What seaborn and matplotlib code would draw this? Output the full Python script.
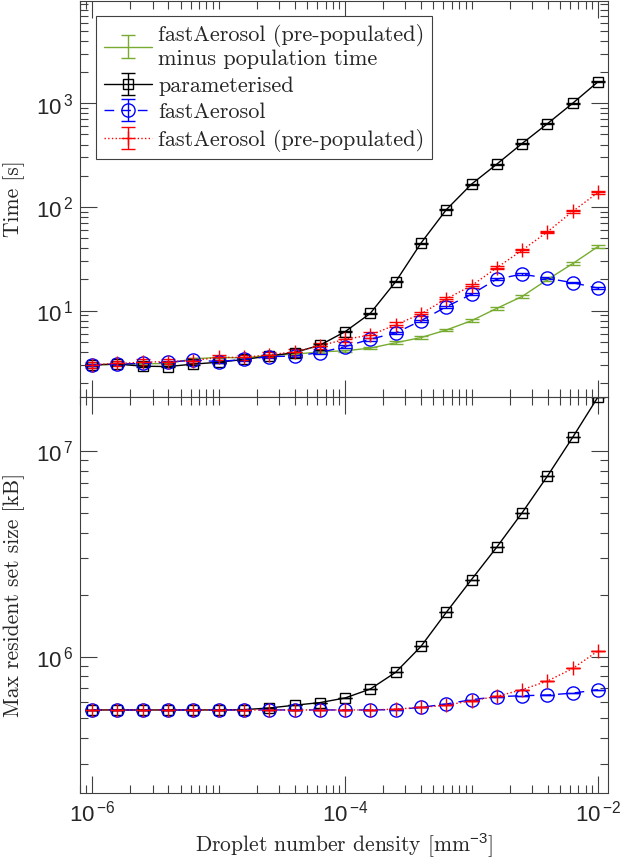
import numpy as np
import matplotlib.pyplot as plt
import seaborn as sns
from matplotlib.ticker import FixedLocator, LogLocator, FuncFormatter, NullFormatter

# droplet number density [mm^-3]
density = [1.00e-6, 1.58e-6, 2.51e-6, 3.98e-6, 6.31e-6,
           1.00e-5, 1.58e-5, 2.51e-5, 3.98e-5, 6.31e-5,
           1.00e-4, 1.58e-4, 2.51e-4, 3.98e-4, 6.31e-4,
           1.00e-3, 1.58e-3, 2.51e-3, 3.98e-3, 6.31e-3,
           1.00e-2]

# run time [s]
time_minus_pop = [3.0, 3.03, 3.06, 3.1, 3.43, 3.54, 3.5, 3.7, 3.8, 4.0, 4.1,
                  4.35, 4.9, 5.5, 6.5, 8.0, 10.5, 13.7, 19.9, 28.4, 41.5]
time_param = [3.0, 3.05, 2.91, 2.89, 3.05, 3.18, 3.38, 3.65, 3.94, 4.64, 6.27,
              9.4, 19.0, 44.8, 94, 166, 258, 409, 635, 1000, 1610]
time_fast = [3.0, 3.05, 3.1, 3.18, 3.33, 3.23, 3.38, 3.6, 3.65, 3.94, 4.5,
             5.3, 6.1, 8.0, 10.9, 14.4, 20.1, 22.5, 20.5, 18.6, 16.5]
time_prepop = [3.0, 3.1, 3.18, 3.23, 3.3, 3.54, 3.54, 3.76, 4.0, 4.57, 5.3,
               5.8, 7.3, 9.3, 13.0, 17.4, 25.9, 38.2, 57.5, 90.6, 138]

time_minus_pop_err = [0.05, 0.05, 0.05, 0.05, 0.06, 0.06, 0.06, 0.07, 0.08, 0.1, 0.1,
                      0.12, 0.15, 0.18, 0.2, 0.25, 0.35, 0.5, 0.7, 1.0, 1.4]
time_param_err = [0.05, 0.05, 0.05, 0.05, 0.05, 0.05, 0.06, 0.06, 0.07, 0.08, 0.1,
                  0.15, 0.3, 0.6, 1.0, 2.0, 3.0, 4.0, 6.0, 8.0, 12.0]
time_fast_err = [0.08, 0.08, 0.08, 0.08, 0.08, 0.08, 0.08, 0.1, 0.1, 0.1, 0.12,
                 0.15, 0.15, 0.2, 0.25, 0.3, 0.4, 0.4, 0.4, 0.3, 0.3]
time_prepop_err = [0.2, 0.2, 0.2, 0.2, 0.2, 0.2, 0.2, 0.2, 0.25, 0.3, 0.3,
                   0.4, 0.4, 0.5, 0.6, 0.7, 0.9, 1.2, 1.6, 2.5, 3.5]

# max resident set size [kB]
mem_param = [5.50e5, 5.50e5, 5.50e5, 5.50e5, 5.50e5, 5.50e5, 5.52e5, 5.62e5,
             5.80e5, 5.97e5, 6.29e5, 6.95e5, 8.38e5, 1.12e6, 1.64e6, 2.37e6,
             3.40e6, 5.00e6, 7.54e6, 1.165e7, 1.83e7]
mem_fast = [5.50e5, 5.50e5, 5.50e5, 5.50e5, 5.50e5, 5.50e5, 5.50e5, 5.50e5,
            5.50e5, 5.50e5, 5.50e5, 5.50e5, 5.52e5, 5.66e5, 5.88e5, 6.17e5,
            6.38e5, 6.45e5, 6.50e5, 6.64e5, 6.90e5]
mem_prepop = [5.50e5, 5.50e5, 5.50e5, 5.50e5, 5.50e5, 5.50e5, 5.50e5, 5.50e5,
              5.50e5, 5.50e5, 5.50e5, 5.50e5, 5.55e5, 5.66e5, 5.80e5, 6.10e5,
              6.40e5, 6.90e5, 7.60e5, 8.75e5, 1.065e6]
mem_err = [0, 0, 0, 0, 0, 0, 0, 0, 0, 0, 0, 0, 0, 0, 0, 0, 0, 0, 0, 0, 0]

sns.set_theme(style='ticks')
plt.rcParams['mathtext.fontset'] = 'custom'
plt.rcParams['mathtext.rm'] = 'Liberation Sans'
plt.rcParams['mathtext.it'] = 'Liberation Sans:italic'
plt.rcParams['mathtext.sf'] = 'Liberation Sans'
plt.rcParams['axes.unicode_minus'] = False

label_font = {'family': 'cmr10', 'size': 15.5}
legend_font = {'family': 'cmr10', 'size': 16}

fig = plt.figure(figsize=(6.23, 8.6), dpi=100)
ax1 = fig.add_axes([0.1284, 0.5384, 0.8475, 0.4605])
ax2 = fig.add_axes([0.1284, 0.0779, 0.8475, 0.4605])

green = '#77AC30'
blue = '#0000FF'
red = '#FF0000'
black = '#000000'
dash = (0, (7, 5))


def draw(ax, y, err, color, ls, marker, ms, label):
    ax.errorbar(density, y, yerr=err, color=color, ls=ls, marker=marker,
                mfc='none', ms=ms, mew=1.0, lw=1.0, elinewidth=1.0,
                capsize=5, capthick=1.0, label=label)


draw(ax1, time_minus_pop, time_minus_pop_err, green, '-', '', 0,
     'fastAerosol (pre-populated)\nminus population time')
draw(ax1, time_param, time_param_err, black, '-', 's', 7, 'parameterised')
draw(ax1, time_fast, time_fast_err, blue, dash, 'o', 9.5, 'fastAerosol')
draw(ax1, time_prepop, time_prepop_err, red, ':', '+', 10, 'fastAerosol (pre-populated)')

draw(ax2, mem_param, mem_err, black, '-', 's', 7, 'parameterised')
draw(ax2, mem_fast, mem_err, blue, dash, 'o', 9.5, 'fastAerosol')
draw(ax2, mem_prepop, mem_err, red, ':', '+', 10, 'fastAerosol (pre-populated)')

pow_fmt = FuncFormatter(lambda v, p: r'$\mathrm{10}^{\,\mathrm{%d}}$' % round(np.log10(v)))

for ax in (ax1, ax2):
    ax.set_xscale('log')
    ax.set_yscale('log')
    ax.set_xlim(8e-7, 1.2e-2)
    ax.xaxis.set_major_locator(FixedLocator([1e-6, 1e-4, 1e-2]))
    ax.xaxis.set_minor_locator(LogLocator(base=10, subs=np.arange(1, 10), numticks=50))
    ax.xaxis.set_minor_formatter(NullFormatter())
    ax.yaxis.set_major_locator(LogLocator(base=10, numticks=20))
    ax.yaxis.set_minor_locator(LogLocator(base=10, subs=np.arange(2, 10), numticks=50))
    ax.yaxis.set_minor_formatter(NullFormatter())
    ax.xaxis.set_major_formatter(pow_fmt)
    ax.yaxis.set_major_formatter(pow_fmt)
    ax.tick_params(which='both', direction='in', top=True, right=True,
                   width=0.8, color='0.25', labelcolor='0.15', labelsize=16, pad=5)
    ax.tick_params(which='major', length=12)
    ax.tick_params(which='minor', length=6)
    for s in ax.spines.values():
        s.set_linewidth(0.8)
        s.set_color('0.25')
    ax.grid(False)

ax1.set_ylim(1.47, 9.7e3)
ax2.set_ylim(2.17e5, 1.83e7)
ax1.tick_params(axis='x', labelbottom=False)

ax1.set_ylabel('Time [s]', fontdict=label_font, labelpad=8)
ax2.set_ylabel('Max resident set size [kB]', fontdict=label_font, labelpad=8)
ax2.set_xlabel('Droplet number density [mm$^{-3}$]', fontdict=label_font, labelpad=4)

leg = ax1.legend(loc='upper left', bbox_to_anchor=(0.03, 0.962), borderaxespad=0,
                 prop=legend_font, frameon=True, fancybox=False, framealpha=1,
                 edgecolor='0.25', handlelength=2.2, handletextpad=0.25,
                 labelspacing=0.3, borderpad=0.35)
leg.get_frame().set_linewidth(0.8)

fig.savefig('out.png', dpi=100)
